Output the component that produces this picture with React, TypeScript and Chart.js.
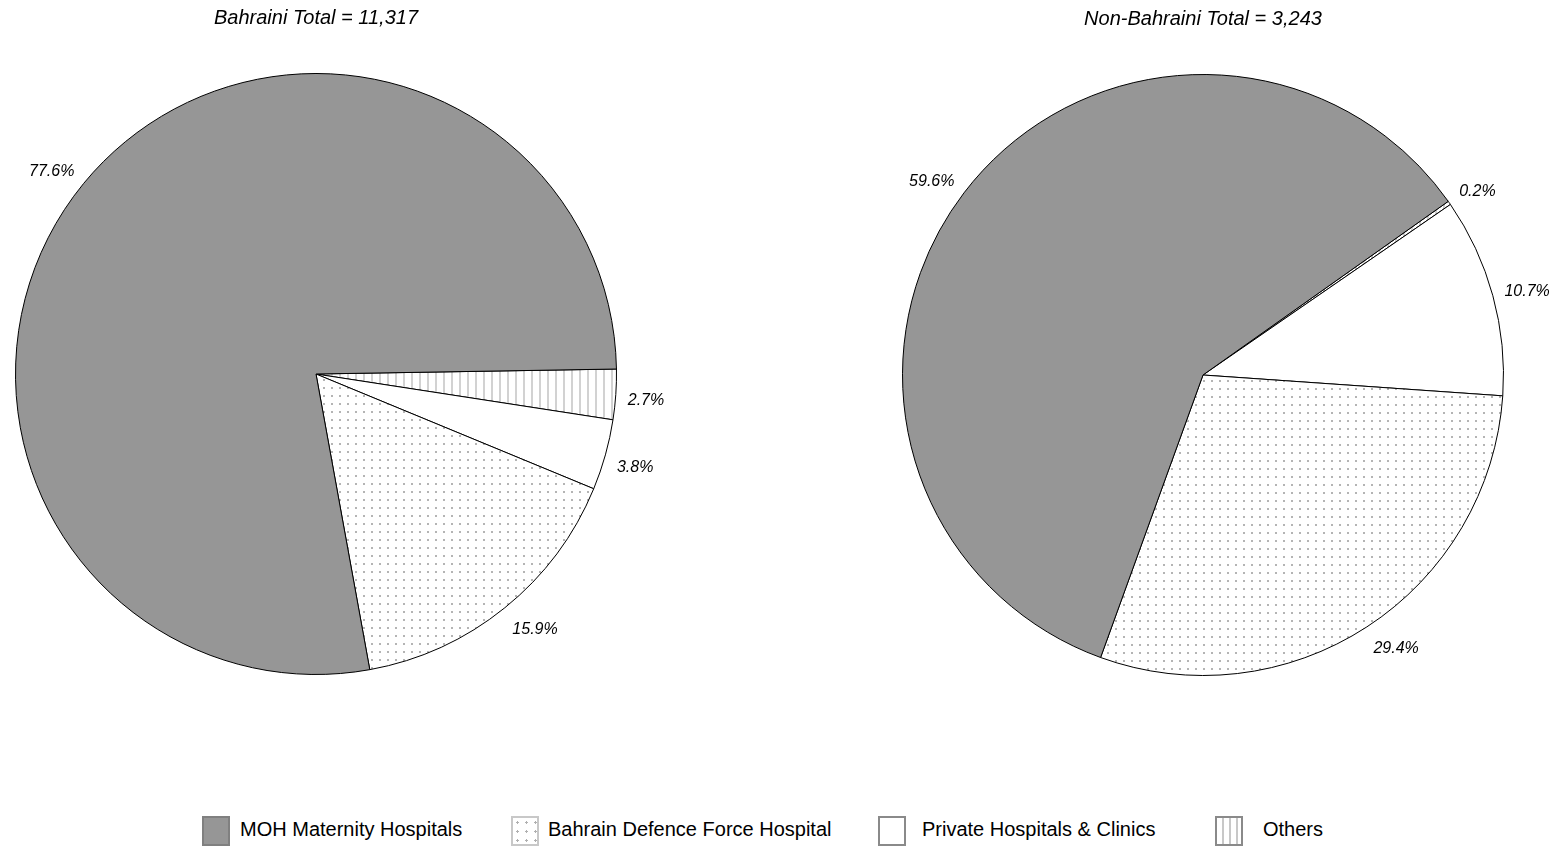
import React, { useEffect, useRef } from "react";
import { Chart, registerables } from "chart.js";

Chart.register(...registerables);

const categories = [
  "MOH Maternity Hospitals",
  "Bahrain Defence Force Hospital",
  "Private Hospitals & Clinics",
  "Others",
];
const bahrainiPct = [77.6, 15.9, 3.8, 2.7];
const nonBahrainiPct = [59.6, 29.4, 10.7, 0.2];
const bahrainiTitle = "Bahraini Total = 11,317";
const nonBahrainiTitle = "Non-Bahraini Total = 3,243";
// clockwise drawing order of slices (indices into categories)
const drawOrder = [3, 2, 1, 0];

const FONT = "'Liberation Sans', Arial, Helvetica, sans-serif";

function makePattern(kind: string): CanvasPattern | string {
  const c = document.createElement("canvas");
  c.width = 8;
  c.height = 8;
  const g = c.getContext("2d")!;
  g.fillStyle = "#ffffff";
  g.fillRect(0, 0, 8, 8);
  if (kind === "dots") {
    g.fillStyle = "#b4b4b4";
    g.fillRect(3, 3, 2, 2);
  } else if (kind === "stripes") {
    g.fillStyle = "#d2d2d2";
    g.fillRect(3, 0, 2, 8);
  }
  const p = g.createPattern(c, "repeat");
  return p || "#ffffff";
}

const outsideLabels = {
  id: "outsideLabels",
  afterDatasetsDraw(chart: any) {
    const ctx = chart.ctx;
    const meta = chart.getDatasetMeta(0);
    const data = chart.data.datasets[0].data as number[];
    const fontSize = 16;
    ctx.save();
    ctx.font = `italic ${fontSize}px ${FONT}`;
    ctx.fillStyle = "#000";
    ctx.textAlign = "center";
    ctx.textBaseline = "middle";
    meta.data.forEach((arc: any, i: number) => {
      const { x, y, startAngle, endAngle, outerRadius } = arc.getProps(
        ["x", "y", "startAngle", "endAngle", "outerRadius"],
        true
      );
      const mid = (startAngle + endAngle) / 2;
      const text = data[i].toFixed(1) + "%";
      const w = ctx.measureText(text).width;
      const R = outerRadius + 12;
      const c = Math.cos(mid);
      const s = Math.sin(mid);
      const ox = (w / 2) * Math.sign(c) * Math.min(1, Math.abs(c) * 2.5);
      const oy = (fontSize / 2) * Math.sign(s) * Math.min(1, Math.abs(s) * 2.5);
      ctx.fillText(text, x + R * c + ox, y + R * s + oy + 4);
    });
    ctx.restore();
  },
};

function PieChart(props: {
  values: number[];
  title: string;
  rotation: number;
  padLeft: number;
  padRight: number;
  left: number;
  top: number;
}) {
  const ref = useRef<HTMLCanvasElement | null>(null);
  useEffect(() => {
    if (!ref.current) return;
    const fills: Record<number, CanvasPattern | string> = {
      0: "#969696",
      1: makePattern("dots"),
      2: "#ffffff",
      3: makePattern("stripes"),
    };
    const chart = new Chart(ref.current, {
      type: "pie",
      data: {
        labels: drawOrder.map((i) => categories[i]),
        datasets: [
          {
            data: drawOrder.map((i) => props.values[i]),
            backgroundColor: drawOrder.map((i) => fills[i]) as any,
            borderColor: "#000000",
            borderWidth: 1,
          },
        ],
      },
      options: {
        responsive: false,
        animation: false,
        events: [],
        rotation: props.rotation,
        layout: {
          padding: { left: props.padLeft, right: props.padRight, top: 0, bottom: 75 },
        },
        plugins: {
          legend: { display: false },
          tooltip: { enabled: false },
          title: {
            display: true,
            text: props.title,
            color: "#000",
            font: { family: FONT, size: 20, style: "italic", weight: "normal" },
            padding: { top: 6, bottom: 43 },
          },
        },
      },
      plugins: [outsideLabels],
    });
    return () => chart.destroy();
  }, []);
  return (
    <canvas
      ref={ref}
      width={700}
      height={750}
      style={{ position: "absolute", left: props.left, top: props.top, width: 700, height: 750 }}
    />
  );
}

const legendBoxes: React.CSSProperties[] = [
  { background: "#969696", border: "2px solid #808080" },
  {
    backgroundColor: "#fff",
    backgroundImage: "radial-gradient(circle, #b0b0b0 1px, transparent 1.2px)",
    backgroundSize: "9px 9px",
    border: "2px solid #c8c8c8",
  },
  { background: "#fff", border: "2px solid #8a8a8a" },
  {
    backgroundColor: "#fff",
    backgroundImage: "repeating-linear-gradient(90deg, #ffffff 0px, #ffffff 5px, #c8c8c8 5px, #c8c8c8 7px)",
    border: "2px solid #8a8a8a",
  },
];
const legendLefts = [202, 511, 878, 1215];
const legendTextGaps = [10, 9, 16, 20];

export default function App() {
  return (
    <div
      style={{
        position: "absolute",
        left: 0,
        top: 0,
        width: 1556,
        height: 848,
        background: "#fff",
        overflow: "hidden",
      }}
    >
      <PieChart
        values={bahrainiPct}
        title={bahrainiTitle}
        rotation={89.05}
        padLeft={15}
        padRight={83}
        left={0}
        top={0}
      />
      <PieChart
        values={nonBahrainiPct}
        title={nonBahrainiTitle}
        rotation={54.7}
        padLeft={46}
        padRight={52}
        left={856}
        top={1}
      />
      {categories.map((c, i) => (
        <div
          key={c}
          style={{
            position: "absolute",
            left: legendLefts[i],
            top: 815,
            height: 31,
            display: "flex",
            alignItems: "center",
            fontFamily: FONT,
            fontSize: 20,
            color: "#000",
            whiteSpace: "nowrap",
          }}
        >
          <div style={{ width: 24, height: 26, boxSizing: "content-box", ...legendBoxes[i] }} />
          <span style={{ marginLeft: legendTextGaps[i], lineHeight: "24px", marginTop: -3 }}>{c}</span>
        </div>
      ))}
    </div>
  );
}
